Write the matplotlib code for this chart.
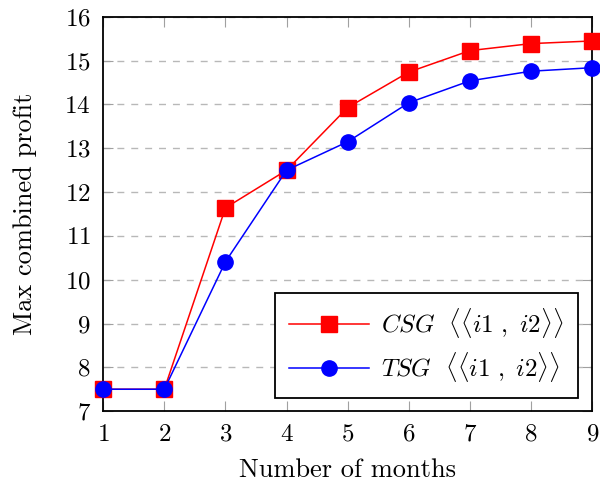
import matplotlib
matplotlib.use('Agg')
import matplotlib.pyplot as plt

plt.rcParams['font.family'] = 'cmr10'
plt.rcParams['mathtext.fontset'] = 'cm'
plt.rcParams['axes.formatter.use_mathtext'] = True

months = [1, 2, 3, 4, 5, 6, 7, 8, 9]
csg = [7.5, 7.5, 11.64, 12.5, 13.93, 14.74, 15.23, 15.39, 15.45]
tsg = [7.5, 7.5, 10.41, 12.5, 13.15, 14.04, 14.54, 14.76, 14.84]
csg_label = r'$CSG\ \ \langle\langle \mathit{i1}\ ,\ \mathit{i2}\rangle\rangle$'
tsg_label = r'$TSG\ \ \langle\langle \mathit{i1}\ ,\ \mathit{i2}\rangle\rangle$'

fig = plt.figure(figsize=(6, 4.82), dpi=100)
ax = fig.add_axes([0.172, 0.147, 0.815, 0.818])

ax.plot(months, csg, color='red', marker='s', markersize=11.5, lw=1.1, label=csg_label, zorder=3, clip_on=False)
ax.plot(months, tsg, color='blue', marker='o', markersize=11, lw=1.1, label=tsg_label, zorder=4, clip_on=False)

ax.set_xlim(1, 9)
ax.set_ylim(7, 16)
ax.set_xticks(months)
ax.set_yticks(range(7, 17))
ax.yaxis.grid(True, linestyle=(0, (5, 5)), color='#b8b8b8', lw=1)
ax.tick_params(direction='in', length=7, color='#a0a0a0', top=True, right=True, labelsize=18, pad=9)
for s in ax.spines.values():
    s.set_linewidth(1.3)

ax.set_xlabel('Number of months', fontsize=19, labelpad=9)
ax.set_ylabel('Max combined profit', fontsize=19, labelpad=20)

leg = ax.legend(loc='lower right', bbox_to_anchor=(0.97, 0.033), fontsize=18, fancybox=False,
                edgecolor='black', framealpha=1, borderpad=0.55, labelspacing=0.4, handlelength=3.2,
                handletextpad=0.5, borderaxespad=0)
leg.get_frame().set_linewidth(1.3)

fig.savefig('out.png', dpi=100)
